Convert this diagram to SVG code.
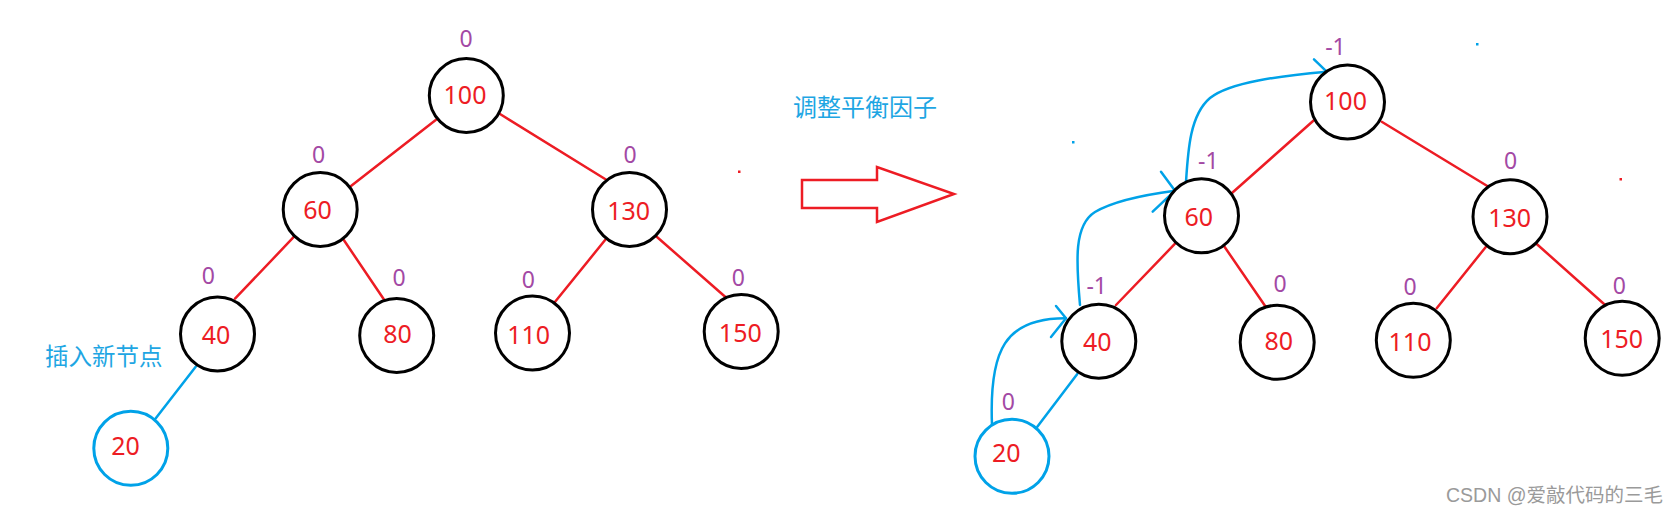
<svg xmlns="http://www.w3.org/2000/svg" width="1679" height="519" viewBox="0 0 1679 519">
<style>
.nd{fill:#fff;stroke:#000;stroke-width:3}
.nb{fill:#fff;stroke:#00A2E8;stroke-width:3}
.v{font-family:"Noto Sans","Liberation Sans",sans-serif;font-size:25px;fill:#ED1C24;text-anchor:middle}
.bf{font-family:"Noto Sans","Liberation Sans",sans-serif;font-size:23px;fill:#A349A4;text-anchor:middle}
.e{stroke:#ED1C24;stroke-width:2.5;fill:none;stroke-linecap:round}
.eb{stroke:#00A2E8;stroke-width:2.5;fill:none;stroke-linecap:round;stroke-linejoin:round}
.cap{font-family:"Noto Sans CJK SC",sans-serif;font-size:23.5px;fill:#1EA6E3}
</style>
<rect width="1679" height="519" fill="#fff"/>
<g id="connectors">
<line class="e" x1="436.7" y1="119.3" x2="351" y2="186"/>
<line class="e" x1="500" y1="114" x2="606.7" y2="180"/>
<line class="e" x1="295" y1="235.7" x2="235" y2="298.7"/>
<line class="e" x1="343.3" y1="239.3" x2="384.3" y2="300"/>
<line class="e" x1="605.7" y1="239.3" x2="554.3" y2="302.7"/>
<line class="e" x1="656.7" y1="236.7" x2="725.7" y2="297.3"/>
<line class="eb" x1="195.7" y1="366.7" x2="155" y2="419.3"/>
<line class="e" x1="1317.3" y1="117.3" x2="1231.7" y2="193.3"/>
<line class="e" x1="1381.7" y1="121.7" x2="1487.3" y2="186"/>
<line class="e" x1="1176" y1="242.7" x2="1116" y2="305"/>
<line class="e" x1="1224" y1="246" x2="1266" y2="307.3"/>
<line class="e" x1="1486" y1="246.7" x2="1436.7" y2="308.3"/>
<line class="e" x1="1536.7" y1="244" x2="1606" y2="305.7"/>
<line class="eb" x1="1037.3" y1="426.7" x2="1077.3" y2="374"/>
<path class="eb" d="M992 425 C989 350 1005 318 1066 318.3"/>
<path class="eb" d="M1056 306 L1066 318.3 L1051 337"/>
<path class="eb" d="M1080 305 C1076 260 1074 225 1095 212 C1115 200 1150 194 1175 190.7"/>
<path class="eb" d="M1161 171.7 L1175 190.7 L1152.7 211.7"/>
<path class="eb" d="M1186 182 C1188 150 1190 115 1210 98 C1230 82 1280 76 1326.7 71.7"/>
<path class="eb" d="M1314 59.3 L1326.7 71.7 L1321.7 91.7"/>
</g>
<g id="arrow">
<polygon points="802,180 877,180 877,167 954,194 877,222 877,208 802,208" fill="#fff" stroke="#ED1C24" stroke-width="2.5" stroke-linejoin="miter"/>
</g>
<g id="L100"><circle class="nd" cx="466.3" cy="95.5" r="37"/><text class="v" x="465" y="103.5">100</text><text class="bf" x="466" y="47">0</text></g>
<g id="L60"><circle class="nd" cx="320.2" cy="209.5" r="37"/><text class="v" x="317.5" y="219">60</text><text class="bf" x="318.7" y="162.5">0</text></g>
<g id="L130"><circle class="nd" cx="629.5" cy="209.5" r="37"/><text class="v" x="628.7" y="219.5">130</text><text class="bf" x="630" y="162.5">0</text></g>
<g id="L40"><circle class="nd" cx="217.5" cy="334" r="37"/><text class="v" x="216" y="344.3">40</text><text class="bf" x="208.3" y="283.5">0</text></g>
<g id="L80"><circle class="nd" cx="396.7" cy="335.5" r="37"/><text class="v" x="397.5" y="342.7">80</text><text class="bf" x="399" y="285.8">0</text></g>
<g id="L110"><circle class="nd" cx="532.5" cy="333" r="37"/><text class="v" x="528.7" y="344">110</text><text class="bf" x="528.3" y="287.8">0</text></g>
<g id="L150"><circle class="nd" cx="741.2" cy="331.5" r="37"/><text class="v" x="740.3" y="341.5">150</text><text class="bf" x="738.3" y="285.8">0</text></g>
<g id="L20"><circle class="nb" cx="130.8" cy="448.3" r="37"/><text class="v" x="125.5" y="454.5">20</text></g>
<g id="R100"><circle class="nd" cx="1347.5" cy="102" r="37"/><text class="v" x="1345.5" y="110.2">100</text><text class="bf" x="1335.5" y="55.2">-1</text></g>
<g id="R60"><circle class="nd" cx="1201.5" cy="215.8" r="37"/><text class="v" x="1198.7" y="225.7">60</text><text class="bf" x="1208.3" y="168.5">-1</text></g>
<g id="R130"><circle class="nd" cx="1510" cy="216.7" r="37"/><text class="v" x="1509.7" y="226.5">130</text><text class="bf" x="1510.7" y="168.5">0</text></g>
<g id="R40"><circle class="nd" cx="1098.8" cy="341.2" r="37"/><text class="v" x="1097.2" y="351.2">40</text><text class="bf" x="1096.7" y="293.5">-1</text></g>
<g id="R80"><circle class="nd" cx="1277.2" cy="342.3" r="37"/><text class="v" x="1278.7" y="349.5">80</text><text class="bf" x="1280" y="291.8">0</text></g>
<g id="R110"><circle class="nd" cx="1413.3" cy="340.3" r="37"/><text class="v" x="1410" y="350.8">110</text><text class="bf" x="1410" y="295.2">0</text></g>
<g id="R150"><circle class="nd" cx="1622.2" cy="338.3" r="37"/><text class="v" x="1621.7" y="348.2">150</text><text class="bf" x="1619.3" y="293.5">0</text></g>
<g id="R20"><circle class="nb" cx="1012" cy="456.3" r="37"/><text class="v" x="1006.3" y="461.5">20</text><text class="bf" x="1008.3" y="410.2">0</text></g>
<g id="labels">
<text class="cap" x="45" y="365">插入新节点</text>
<text class="cap" x="793" y="116" style="font-size:24px">调整平衡因子</text>
<text x="1663" y="502" text-anchor="end" font-family="'Liberation Sans','Noto Sans CJK SC',sans-serif" font-size="19.5" fill="#9a9a9a">CSDN @爱敲代码的三毛</text>
</g>
<g id="dots">
<rect x="738" y="170.5" width="2.5" height="2.5" fill="#ED1C24"/>
<rect x="1619.5" y="178" width="2.5" height="2.5" fill="#ED1C24"/>
<rect x="1072" y="141" width="2.5" height="2.5" fill="#00A2E8"/>
<rect x="1476" y="43" width="2.5" height="2.5" fill="#00A2E8"/>
</g>
</svg>
